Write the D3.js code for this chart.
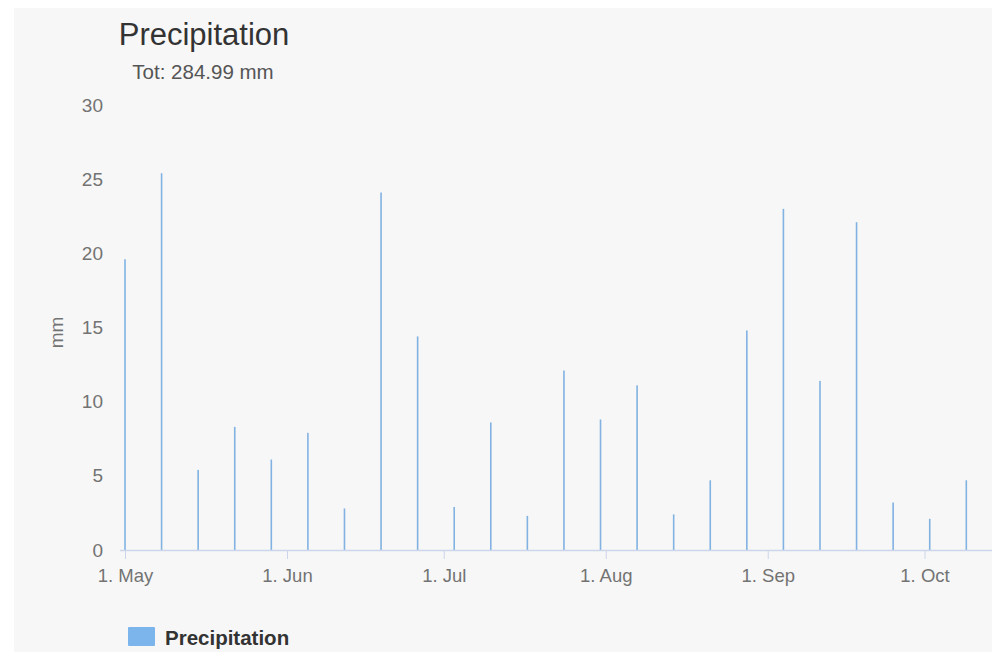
<!DOCTYPE html>
<html>
<head>
<meta charset="utf-8">
<script src="https://cdn.jsdelivr.net/npm/d3@7"></script>
<style>
  html, body { margin: 0; padding: 0; background: #ffffff; }
  svg { display: block; font-family: "Liberation Sans", Arial, sans-serif; }
</style>
</head>
<body>
<svg id="chart" width="992" height="660"></svg>
<script>
// ---- data ----
const weekDates = [
  "2017-05-01","2017-05-08","2017-05-15","2017-05-22","2017-05-29",
  "2017-06-05","2017-06-12","2017-06-19","2017-06-26","2017-07-03",
  "2017-07-10","2017-07-17","2017-07-24","2017-07-31","2017-08-07",
  "2017-08-14","2017-08-21","2017-08-28","2017-09-04","2017-09-11",
  "2017-09-18","2017-09-25","2017-10-02","2017-10-09"
];
const precipitation = [
  19.6, 25.4, 5.4, 8.3, 6.1, 7.9, 2.8, 24.1, 14.4, 2.9,
  8.6, 2.3, 12.1, 8.8, 11.1, 2.4, 4.7, 14.8, 23.0, 11.4,
  22.1, 3.2, 2.1, 4.7
];
const monthTicks = ["2017-05-01","2017-06-01","2017-07-01","2017-08-01","2017-09-01","2017-10-01"];
const yTicks = [0, 5, 10, 15, 20, 25, 30];
const titleText = "Precipitation";
const subtitleText = "Tot: 284.99 mm";
const yAxisTitle = "mm";
const seriesName = "Precipitation";

// ---- layout ----
const svg = d3.select("#chart");
const plotLeft = 120, plotRight = 992, plotTop = 105, plotBottom = 550;
const barColor = "#7cb5ec";
const parse = d3.utcParse("%Y-%m-%d");

svg.append("rect").attr("x", 14).attr("y", 8).attr("width", 978).attr("height", 644).attr("fill", "#f7f7f7");

const x = d3.scaleUtc()
  .domain([parse("2017-05-01"), parse("2017-10-01")])
  .range([125, 924.5]);
const y = d3.scaleLinear().domain([0, 30]).range([plotBottom, plotTop]);

// title
svg.append("text").attr("x", 204).attr("y", 45).attr("text-anchor", "middle")
  .attr("font-size", 31).attr("fill", "#333333").text(titleText);
svg.append("text").attr("x", 203).attr("y", 79).attr("text-anchor", "middle")
  .attr("font-size", 20.5).attr("fill", "#555555").text(subtitleText);

// y axis (labels only)
const yAxis = d3.axisLeft(y).tickValues(yTicks).tickSize(0).tickPadding(0).tickFormat(d3.format("d"));
const gy = svg.append("g").attr("transform", "translate(103,0)").call(yAxis);
gy.select(".domain").remove();
gy.selectAll("text").attr("font-size", 19).attr("fill", "#737373")
  .attr("font-family", "Liberation Sans, Arial, sans-serif");

svg.append("text")
  .attr("transform", "translate(63," + ((plotTop + plotBottom) / 2 + 5) + ") rotate(-90)")
  .attr("text-anchor", "middle").attr("font-size", 19).attr("fill", "#737373").text(yAxisTitle);

// bars
svg.append("g").selectAll("rect").data(precipitation).join("rect")
  .attr("x", (d, i) => x(parse(weekDates[i])) - 0.8)
  .attr("y", d => y(d))
  .attr("width", 1.6)
  .attr("height", d => y(0) - y(d))
  .attr("fill", "#82b2e2");

// x axis
const xAxis = d3.axisBottom(x)
  .tickValues(monthTicks.map(parse))
  .tickSize(9).tickPadding(10)
  .tickFormat(d3.utcFormat("1. %b"));
const gx = svg.append("g").attr("transform", "translate(0," + plotBottom + ")").call(xAxis);
gx.select(".domain").remove();
gx.selectAll(".tick line").attr("stroke", "#ccd6eb");
gx.selectAll("text").attr("font-size", 18.5).attr("fill", "#737373")
  .attr("font-family", "Liberation Sans, Arial, sans-serif");
svg.append("line").attr("x1", plotLeft).attr("x2", plotRight)
  .attr("y1", plotBottom + 0.5).attr("y2", plotBottom + 0.5)
  .attr("stroke", "#ccd6eb").attr("stroke-width", 1.5);

// legend
const lg = svg.append("g");
lg.append("rect").attr("x", 128).attr("y", 627).attr("width", 27).attr("height", 19)
  .attr("rx", 1).attr("fill", barColor);
lg.append("text").attr("x", 165).attr("y", 645).attr("font-size", 20.5)
  .attr("font-weight", "bold").attr("fill", "#333333").text(seriesName);
</script>
</body>
</html>
